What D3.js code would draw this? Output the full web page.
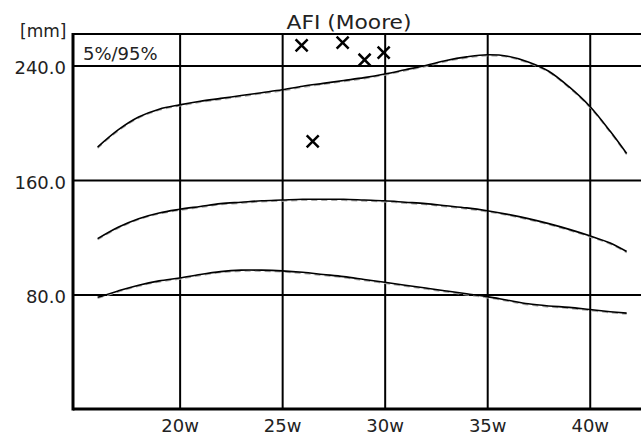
<!DOCTYPE html>
<html>
<head>
<meta charset="utf-8">
<script src="https://cdn.jsdelivr.net/npm/d3@7"></script>
<style>
    body { margin: 0; background: #fff; }
    svg text { font-family: "DejaVu Sans", sans-serif; fill: #222; }
    .axis .domain { display: none; }
    .axis line { stroke: #000; stroke-width: 2; }
</style>
</head>
<body>
<script>
// AFI percentile curves (Moore)

// gestational weeks for the curves:
var weeks = [16, 17, 18, 19, 20, 21, 22, 23, 24, 25, 26, 27, 28, 29, 30, 31, 32, 33, 34, 35, 36, 37, 38, 39, 40, 41, 41.8];

// 95th percentile [mm]:
var p95 = [183, 195, 204, 209.5, 212.5, 215, 217, 219, 221, 223, 225.5, 227.5, 229.5, 231.5, 234, 237, 240, 243.5, 246, 247.5, 246.5, 242.5, 236, 225, 211.5, 194, 178.5];

// 50th percentile [mm]:
var p50 = [119, 127, 133, 137, 139.5, 141.5, 143.5, 144.5, 145.5, 146, 146.5, 146.5, 146.5, 146, 145.5, 144.5, 143.5, 142, 140.5, 138.5, 136, 133, 129.5, 125.5, 121, 116, 110];

// 5th percentile [mm]:
var p5 = [78, 82.5, 86.5, 89.5, 91.5, 94, 96, 97, 97, 96.5, 95.5, 94, 92.5, 90.5, 88.5, 86.5, 84.5, 82.5, 80.5, 78.5, 76, 73.5, 72, 71, 69.5, 68, 67];

// measured points:
var measWeeks = [25.95, 27.95, 29.02, 29.95, 26.49];
var measAfi = [254, 256, 244, 249, 187];

// tick labels:
var xTicks = [20, 25, 30, 35, 40];
var yTicks = [80, 160, 240];

window.onload = function(){

    var w = 641, h = 436;
    var left = 73, top = 34, bottom = 409, right = 641;

    var svg = d3.select("body")
        .append("svg")
        .attr("width", w)
        .attr("height", h);

    // scales:
    var x = d3.scaleLinear()
        .domain([14.8, 42.5])
        .range([left, right]);

    var y = d3.scaleLinear()
        .domain([0, 262])
        .range([bottom, top]);

    // y axis + horizontal grid:
    svg.append("g")
        .attr("class", "axis")
        .attr("transform", "translate(" + left + ",0)")
        .call(d3.axisLeft(y)
            .tickValues(yTicks)
            .tickSize(-(right - left))
            .tickPadding(7)
            .tickFormat(d3.format(".1f")))
        .selectAll("text")
        .attr("dy", null)
        .attr("y", 8.5)
        .style("font-size", "18px");

    // x axis + vertical grid:
    svg.append("g")
        .attr("class", "axis")
        .attr("transform", "translate(0," + bottom + ")")
        .call(d3.axisBottom(x)
            .tickValues(xTicks)
            .tickSize(-(bottom - top))
            .tickPadding(10)
            .tickFormat(function(d){ return d + "w"; }))
        .selectAll("text")
        .style("font-size", "18px");

    // frame (left, top, bottom):
    svg.append("line")
        .attr("x1", left).attr("x2", left)
        .attr("y1", top - 1).attr("y2", bottom + 1.5)
        .style("stroke", "#000").style("stroke-width", 3);
    svg.append("line")
        .attr("x1", left).attr("x2", right)
        .attr("y1", top).attr("y2", top)
        .style("stroke", "#000").style("stroke-width", 2);
    svg.append("line")
        .attr("x1", left).attr("x2", right)
        .attr("y1", bottom).attr("y2", bottom)
        .style("stroke", "#000").style("stroke-width", 3);

    // curves:
    var line = d3.line()
        .x(function(d){ return x(d[0]); })
        .y(function(d){ return y(d[1]); })
        .curve(d3.curveCatmullRom);

    [p95, p50, p5].forEach(function(vals){
        var pts = weeks.map(function(wk, i){ return [wk, vals[i]]; });
        // faint grey trace under the curve
        svg.append("path")
            .attr("d", line(pts))
            .attr("transform", "translate(0,1)")
            .style("fill", "none")
            .style("stroke", "#aaa")
            .style("stroke-width", 1.5)
            .style("stroke-dasharray", "6,4");
        svg.append("path")
            .attr("d", line(pts))
            .style("fill", "none")
            .style("stroke", "#000")
            .style("stroke-width", 1.6);
    });

    // measured points as crosses:
    var cross = d3.symbol().type(d3.symbolX).size(96);
    svg.selectAll(".meas")
        .data(measWeeks)
        .enter()
        .append("path")
        .attr("class", "meas")
        .attr("d", cross)
        .attr("transform", function(d, i){
            return "translate(" + x(d) + "," + y(measAfi[i]) + ")";
        })
        .style("fill", "none")
        .style("stroke", "#000")
        .style("stroke-width", 2.5);

    // label in the top-left cell:
    svg.append("text")
        .attr("x", 83)
        .attr("y", 60)
        .style("font-size", "18px")
        .text("5%/95%");

    // unit:
    svg.append("text")
        .attr("x", 20)
        .attr("y", 37)
        .style("font-size", "17px")
        .text("[mm]");

    // title:
    svg.append("text")
        .attr("x", 349)
        .attr("y", 29)
        .attr("text-anchor", "middle")
        .attr("textLength", 125)
        .attr("lengthAdjust", "spacingAndGlyphs")
        .style("font-family", "'Comic Sans MS', 'DejaVu Sans', sans-serif")
        .style("font-size", "19px")
        .text("AFI (Moore)");
};
</script>
</body>
</html>
